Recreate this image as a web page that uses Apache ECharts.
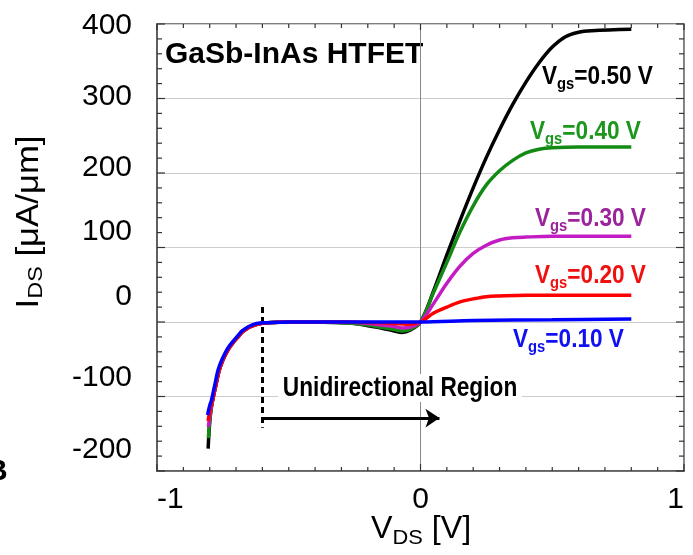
<!DOCTYPE html>
<html>
<head>
<meta charset="utf-8">
<script src="https://cdn.jsdelivr.net/npm/echarts@6/dist/echarts.min.js"></script>
<style>
html, body { margin: 0; padding: 0; background: #fff; }
#chart { width: 693px; height: 555px; }
</style>
</head>
<body>
<div id="chart"></div>
<script>
// Output curves of the GaSb-InAs HTFET: one [VDS (V), IDS (uA/um)] list per gate bias.
var vgs050 = [[-0.806, -170], [-0.803, -150], [-0.800, -135], [-0.795, -118], [-0.786, -100],
  [-0.775, -82], [-0.765, -66], [-0.750, -51], [-0.730, -37], [-0.712, -28], [-0.690, -19],
  [-0.675, -13], [-0.650, -7], [-0.620, -3], [-0.580, -1], [-0.500, 0], [-0.400, 0],
  [-0.300, -1], [-0.250, -2], [-0.200, -5], [-0.150, -8], [-0.100, -12], [-0.070, -14],
  [-0.040, -11], [0, 0], [0.050, 42], [0.100, 90], [0.150, 136], [0.200, 180], [0.250, 221],
  [0.300, 258], [0.350, 292], [0.400, 322], [0.450, 348], [0.500, 369], [0.550, 383],
  [0.600, 389], [0.650, 391], [0.800, 393]];
var vgs040 = [[-0.805, -156], [-0.802, -140], [-0.798, -125], [-0.794, -114], [-0.786, -100],
  [-0.775, -82], [-0.765, -66], [-0.750, -51], [-0.730, -37], [-0.712, -28], [-0.690, -19],
  [-0.675, -13], [-0.650, -7], [-0.620, -3], [-0.580, -1], [-0.500, 0], [-0.400, 0],
  [-0.300, -1], [-0.250, -2], [-0.200, -4], [-0.150, -7], [-0.100, -10], [-0.070, -12],
  [-0.040, -10], [0, 0], [0.050, 40], [0.100, 80], [0.150, 121], [0.200, 156], [0.250, 184],
  [0.300, 203], [0.350, 217], [0.400, 227], [0.450, 232], [0.500, 234], [0.600, 235],
  [0.700, 235], [0.800, 235]];
var vgs030 = [[-0.805, -141], [-0.801, -130], [-0.797, -120], [-0.793, -112], [-0.786, -100],
  [-0.775, -82], [-0.765, -66], [-0.750, -51], [-0.730, -37], [-0.712, -28], [-0.690, -19],
  [-0.675, -13], [-0.650, -7], [-0.620, -3], [-0.580, -1], [-0.500, 0], [-0.400, 0],
  [-0.300, 0], [-0.200, -2], [-0.150, -4], [-0.100, -6], [-0.070, -8], [-0.040, -7], [0, 0],
  [0.050, 25], [0.100, 52], [0.150, 75], [0.200, 92], [0.250, 103], [0.300, 110],
  [0.350, 113], [0.400, 114], [0.500, 115], [0.800, 115]];
var vgs020 = [[-0.806, -133], [-0.802, -124], [-0.797, -116], [-0.792, -110], [-0.786, -100],
  [-0.775, -82], [-0.765, -66], [-0.750, -51], [-0.730, -37], [-0.712, -28], [-0.690, -19],
  [-0.675, -13], [-0.650, -7], [-0.620, -3], [-0.580, -1], [-0.500, 0], [-0.300, 0],
  [-0.150, -1], [-0.100, -2], [-0.050, -3], [0, 0], [0.050, 12], [0.100, 20], [0.150, 27],
  [0.200, 31], [0.250, 34], [0.300, 35], [0.400, 36], [0.800, 36]];
var vgs010 = [[-0.808, -125], [-0.804, -118], [-0.799, -111], [-0.794, -106], [-0.789, -98],
  [-0.778, -80], [-0.768, -64], [-0.753, -50], [-0.733, -36], [-0.714, -27], [-0.692, -18],
  [-0.677, -12], [-0.652, -6], [-0.622, -2], [-0.580, -1], [-0.500, 0], [0, 0],
  [0.200, 2], [0.500, 3], [0.800, 4]];

var curves = [vgs050, vgs040, vgs030, vgs020, vgs010];
var gateBias = ['0.50', '0.40', '0.30', '0.20', '0.10'];
var lineColors = ['#000000', '#138a13', '#c41cc4', '#ff0000', '#0000ff'];
var labelColors = ['#000000', '#1c961c', '#9b239b', '#f01010', '#1010f0'];

// Tick labels of the current axis and the small vertical shift each one has in the figure.
var yTickValues = [400, 300, 200, 100, 0, -100, -200];
var yTickShift = [2, -2, -5, -16, -25, -19, -21];

// Axis ranges and tick spacing (major / minor).
var xRange = [-1, 1];
var yRange = [-200, 400];
var xMajor = 1, xMinor = 0.1;
var yMajor = 100, yMinor = 20;

// Unidirectional region marker, in data units.
var regionStart = -0.6;
var regionArrowEnd = 0.072;
var regionArrowLevel = -129;
var dashTop = 20;
var dashBottom = -142;

var FONT = '"Liberation Sans", Arial, sans-serif';

var chart = echarts.init(document.getElementById('chart'), null, { renderer: 'canvas' });

var yRich = {};
yTickValues.forEach(function (v, i) {
  var s = yTickShift[i];
  yRich['t' + i] = {
    fontSize: 30, fontFamily: FONT, color: '#000',
    padding: s < 0 ? [0, 0, -2 * s, 0] : [2 * s, 0, 0, 0]
  };
});

function gateRich(color) {
  return {
    v: { fontSize: 26, fontWeight: 'bold', fontFamily: FONT, fill: color },
    s: { fontSize: 17, fontWeight: 'bold', fontFamily: FONT, fill: color, padding: [14, 0, 0, 0] }
  };
}

// label anchor: left edge and cap centre, px
var gatePos = [[542, 77], [530, 132], [535, 219], [535, 276], [513, 340]];

var graphics = [
  { type: 'text', x: 165, y: 55, style: { text: 'GaSb-InAs HTFET', fontSize: 30, fontWeight: 'bold',
      fontFamily: FONT, fill: '#000', verticalAlign: 'middle' } },
  { type: 'text', x: 278, y: 388, scaleX: 0.81, z: 10, style: { text: 'Unidirectional Region', fontSize: 28,
      fontWeight: 'bold', fontFamily: FONT, fill: '#000', verticalAlign: 'middle',
      backgroundColor: '#fff', padding: [0, 6] } },
  { type: 'text', x: 29, y: 222, rotation: Math.PI / 2, scaleX: 1.12, style: {
      text: '{a|I}{b|DS}{a| [μA/μm]}', align: 'center', verticalAlign: 'middle',
      rich: { a: { fontSize: 31, fontFamily: FONT, fill: '#000' },
              b: { fontSize: 21, fontFamily: FONT, fill: '#000', padding: [15, 0, 0, 0] } } } },
  { type: 'text', x: 421, y: 529, scaleX: 1.04, style: {
      text: '{a|V}{b|DS}{a| [V]}', align: 'center', verticalAlign: 'middle',
      rich: { a: { fontSize: 31, fontFamily: FONT, fill: '#000' },
              b: { fontSize: 21, fontFamily: FONT, fill: '#000', padding: [18, 0, 0, 0] } } } },
  { type: 'text', x: -14, y: 472, style: { text: 'B', fontSize: 30, fontWeight: 'bold',
      fontFamily: FONT, fill: '#000', verticalAlign: 'middle' } }
];
gateBias.forEach(function (g, i) {
  graphics.push({
    type: 'text', x: gatePos[i][0], y: gatePos[i][1], scaleX: 0.87, z: 10,
    style: { text: '{v|V}{s|gs}{v|=' + g + ' V}', verticalAlign: 'middle', rich: gateRich(labelColors[i]) }
  });
});

// Inward frame ticks on all four sides, placed through the axis scales.
function renderFrameTicks(params, api) {
  var kids = [];
  var tickStyle = { stroke: '#333', lineWidth: 1.2 };
  function tick(x1, y1, x2, y2) {
    kids.push({ type: 'line', shape: { x1: x1, y1: y1, x2: x2, y2: y2 }, style: tickStyle });
  }
  var nx = Math.round((xRange[1] - xRange[0]) / xMinor);
  for (var i = 0; i <= nx; i++) {
    var xv = xRange[0] + i * xMinor;
    var major = i % Math.round(xMajor / xMinor) === 0;
    var pb = api.coord([xv, yRange[0]]);
    var pt = api.coord([xv, yRange[1]]);
    tick(pb[0], pb[1], pb[0], pb[1] - (major ? 7 : 4));
    tick(pt[0], pt[1], pt[0], pt[1] + (major ? 6 : 4));
  }
  var ny = Math.round((yRange[1] - yRange[0]) / yMinor);
  for (var j = 0; j <= ny; j++) {
    var yv = yRange[0] + j * yMinor;
    var majorY = j % Math.round(yMajor / yMinor) === 0;
    var pl = api.coord([xRange[0], yv]);
    var pr = api.coord([xRange[1], yv]);
    tick(pl[0], pl[1], pl[0] + (majorY ? 8 : 5), pl[1]);
    tick(pr[0], pr[1], pr[0] - (majorY ? 8 : 5), pr[1]);
  }
  return { type: 'group', children: kids };
}

var series = curves.map(function (c, i) {
  return {
    type: 'line', name: gateBias[i], data: c, symbol: 'none', smooth: 0.35,
    lineStyle: { width: 3.5, color: lineColors[i] }, itemStyle: { color: lineColors[i] },
    z: 2 + i
  };
});
series.push({
  type: 'line', data: [[regionStart, dashTop]], symbol: 'none', lineStyle: { opacity: 0 },
  markLine: { silent: true, symbol: ['none', 'none'], label: { show: false }, animation: false,
    lineStyle: { type: [6, 4], width: 3, color: '#000' },
    data: [[{ coord: [regionStart, dashTop] }, { coord: [regionStart, dashBottom] }]] }
});
series.push({
  type: 'line', data: [[regionStart, regionArrowLevel]], symbol: 'none', lineStyle: { opacity: 0 },
  markLine: { silent: true, symbol: ['none', 'arrow'], symbolSize: 14, label: { show: false }, animation: false,
    lineStyle: { type: 'solid', width: 3, color: '#000' },
    data: [[{ coord: [regionStart, regionArrowLevel] }, { coord: [regionArrowEnd, regionArrowLevel] }]] }
});
series.push({
  type: 'custom', data: [[0, 0]], silent: true, clip: false, z: 1,
  renderItem: renderFrameTicks
});

chart.setOption({
  animation: false,
  backgroundColor: '#fff',
  // the grid border closes the frame on the top and right sides
  grid: { left: 157, right: 9, top: 24, bottom: 84, show: true, borderColor: '#555', borderWidth: 1.5 },
  xAxis: {
    type: 'value', min: xRange[0], max: xRange[1], interval: xMajor,
    axisLine: { show: true, onZero: false, lineStyle: { color: '#555', width: 1.5 } },
    axisTick: { show: false },
    splitLine: { show: true, lineStyle: { color: '#8a8a8a', width: 1 } },
    axisLabel: { fontSize: 30, fontFamily: FONT, color: '#000', margin: 14,
      showMinLabel: true, showMaxLabel: true, alignMinLabel: 'left', alignMaxLabel: 'right' }
  },
  yAxis: {
    type: 'value', min: yRange[0], max: yRange[1], interval: yMajor,
    axisLine: { show: true, onZero: false, lineStyle: { color: '#555', width: 1.5 } },
    axisTick: { show: false },
    splitLine: { show: true, lineStyle: { color: '#cdcdcd', width: 1 } },
    axisLabel: {
      margin: 25, showMinLabel: true, showMaxLabel: true,
      formatter: function (v) {
        var i = yTickValues.indexOf(v);
        return i < 0 ? String(v) : '{t' + i + '|' + v + '}';
      },
      rich: yRich
    }
  },
  graphic: graphics,
  series: series
});
</script>
</body>
</html>
